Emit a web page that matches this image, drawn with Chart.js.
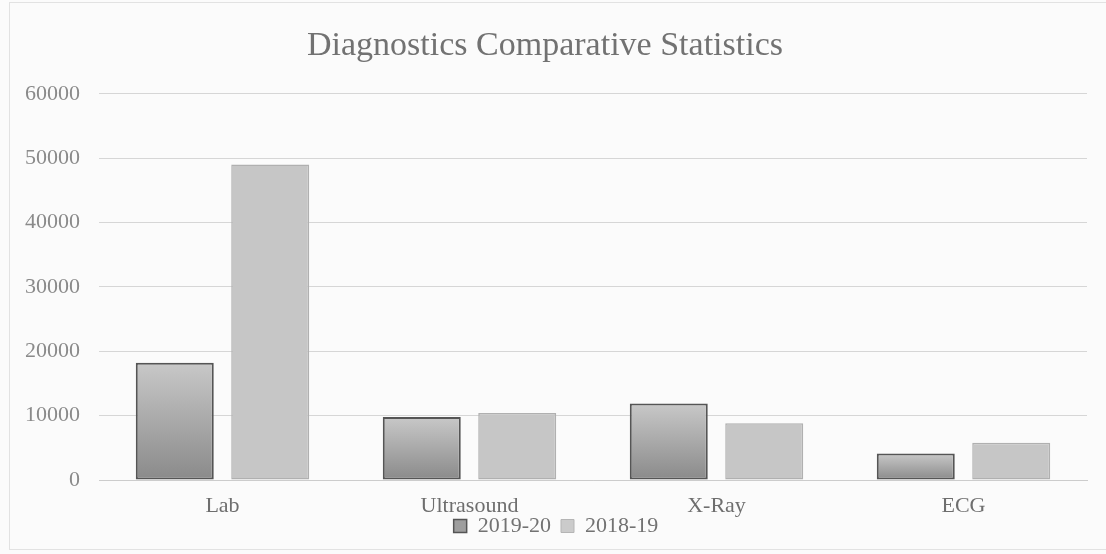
<!DOCTYPE html>
<html>
<head>
<meta charset="utf-8">
<script src="https://cdn.jsdelivr.net/npm/chart.js@4.4.0/dist/chart.umd.min.js"></script>
<style>
  html, body { margin: 0; padding: 0; background: #fbfbfb; }
  #wrap { position: relative; width: 1106px; height: 554px; }
  #frame { position: absolute; left: 9px; top: 2px; width: 1110px; height: 548px; border: 1px solid #e2e2e2; box-sizing: border-box; }
  canvas { position: absolute; left: 0; top: 0; }
</style>
</head>
<body>
<div id="wrap">
  <div id="frame"></div>
  <canvas id="c" width="1106" height="554"></canvas>
</div>
<script>
const categories = ['Lab', 'Ultrasound', 'X-Ray', 'ECG'];
const series2019 = [18200, 9800, 11900, 4100];
const series2018 = [49000, 10400, 8800, 5800];
const seriesNames = ['2019-20', '2018-19'];
const chartTitle = 'Diagnostics Comparative Statistics';
const yMax = 60000;
const yStep = 10000;

const FONT = "'Liberation Serif', 'Times New Roman', serif";

function gradFill(ctx) {
  const chart = ctx.chart;
  const area = chart.chartArea;
  if (!area || ctx.type !== 'data') return '#a8a8a8';
  const y = chart.scales.y;
  const top = y.getPixelForValue(ctx.raw);
  const bottom = y.getPixelForValue(0);
  const g = chart.ctx.createLinearGradient(0, bottom, 0, top);
  g.addColorStop(0, '#8a8a8a');
  g.addColorStop(1, '#c8c8c8');
  return g;
}

const layoutTweaks = {
  id: 'layoutTweaks',
  afterLayout(chart) {
    const t = chart.titleBlock;
    if (t) { t.left -= 11; t.right -= 11; }
    const x = chart.scales.x;
    if (x) { x.bottom += 25; }
  }
};

new Chart(document.getElementById('c'), {
  type: 'bar',
  data: {
    labels: categories,
    datasets: [
      {
        label: seriesNames[0],
        data: series2019,
        backgroundColor: gradFill,
        borderColor: '#555555',
        borderWidth: 2,
        borderSkipped: false,
        categoryPercentage: 0.773,
        barPercentage: 0.817
      },
      {
        label: seriesNames[1],
        data: series2018,
        backgroundColor: '#c6c6c6',
        borderColor: '#b0b0b0',
        borderWidth: 1.5,
        borderSkipped: false,
        categoryPercentage: 0.773,
        barPercentage: 0.817
      }
    ]
  },
  plugins: [layoutTweaks],
  options: {
    responsive: false,
    animation: false,
    devicePixelRatio: 1,
    layout: { padding: { left: 25, right: 19, top: 0, bottom: 7 } },
    plugins: {
      title: {
        display: true,
        text: chartTitle,
        color: '#727272',
        font: { family: FONT, size: 34, weight: 'normal' },
        padding: { top: 26, bottom: 27 }
      },
      legend: {
        position: 'bottom',
        labels: {
          color: '#727272',
          font: { family: FONT, size: 22 },
          boxWidth: 13,
          boxHeight: 13,
          padding: 10,
          generateLabels: (chart) => chart.data.datasets.map((ds, i) => ({
            text: ds.label,
            fillStyle: i === 0 ? '#9e9e9e' : '#cbcbcb',
            strokeStyle: i === 0 ? '#555555' : '#b5b5b5',
            lineWidth: i === 0 ? 1.5 : 1,
            fontColor: '#727272',
            datasetIndex: i,
            hidden: false
          }))
        }
      },
      tooltip: { enabled: false }
    },
    scales: {
      x: {
        grid: { display: false, drawTicks: false },
        border: { display: true, color: '#cccccc', width: 1 },
        ticks: { color: '#6e6e6e', font: { family: FONT, size: 22 }, padding: 13 },
        afterFit: (scale) => { scale.height = 25; }
      },
      y: {
        min: 0,
        max: yMax,
        grid: { color: '#d6d6d6', lineWidth: 1, drawTicks: false },
        border: { display: false },
        ticks: {
          stepSize: yStep,
          color: '#8a8a8a',
          font: { family: FONT, size: 22 },
          padding: 19,
          callback: (v) => String(v)
        },
        afterFit: (scale) => { scale.width = 74; }
      }
    }
  }
});
</script>
</body>
</html>
